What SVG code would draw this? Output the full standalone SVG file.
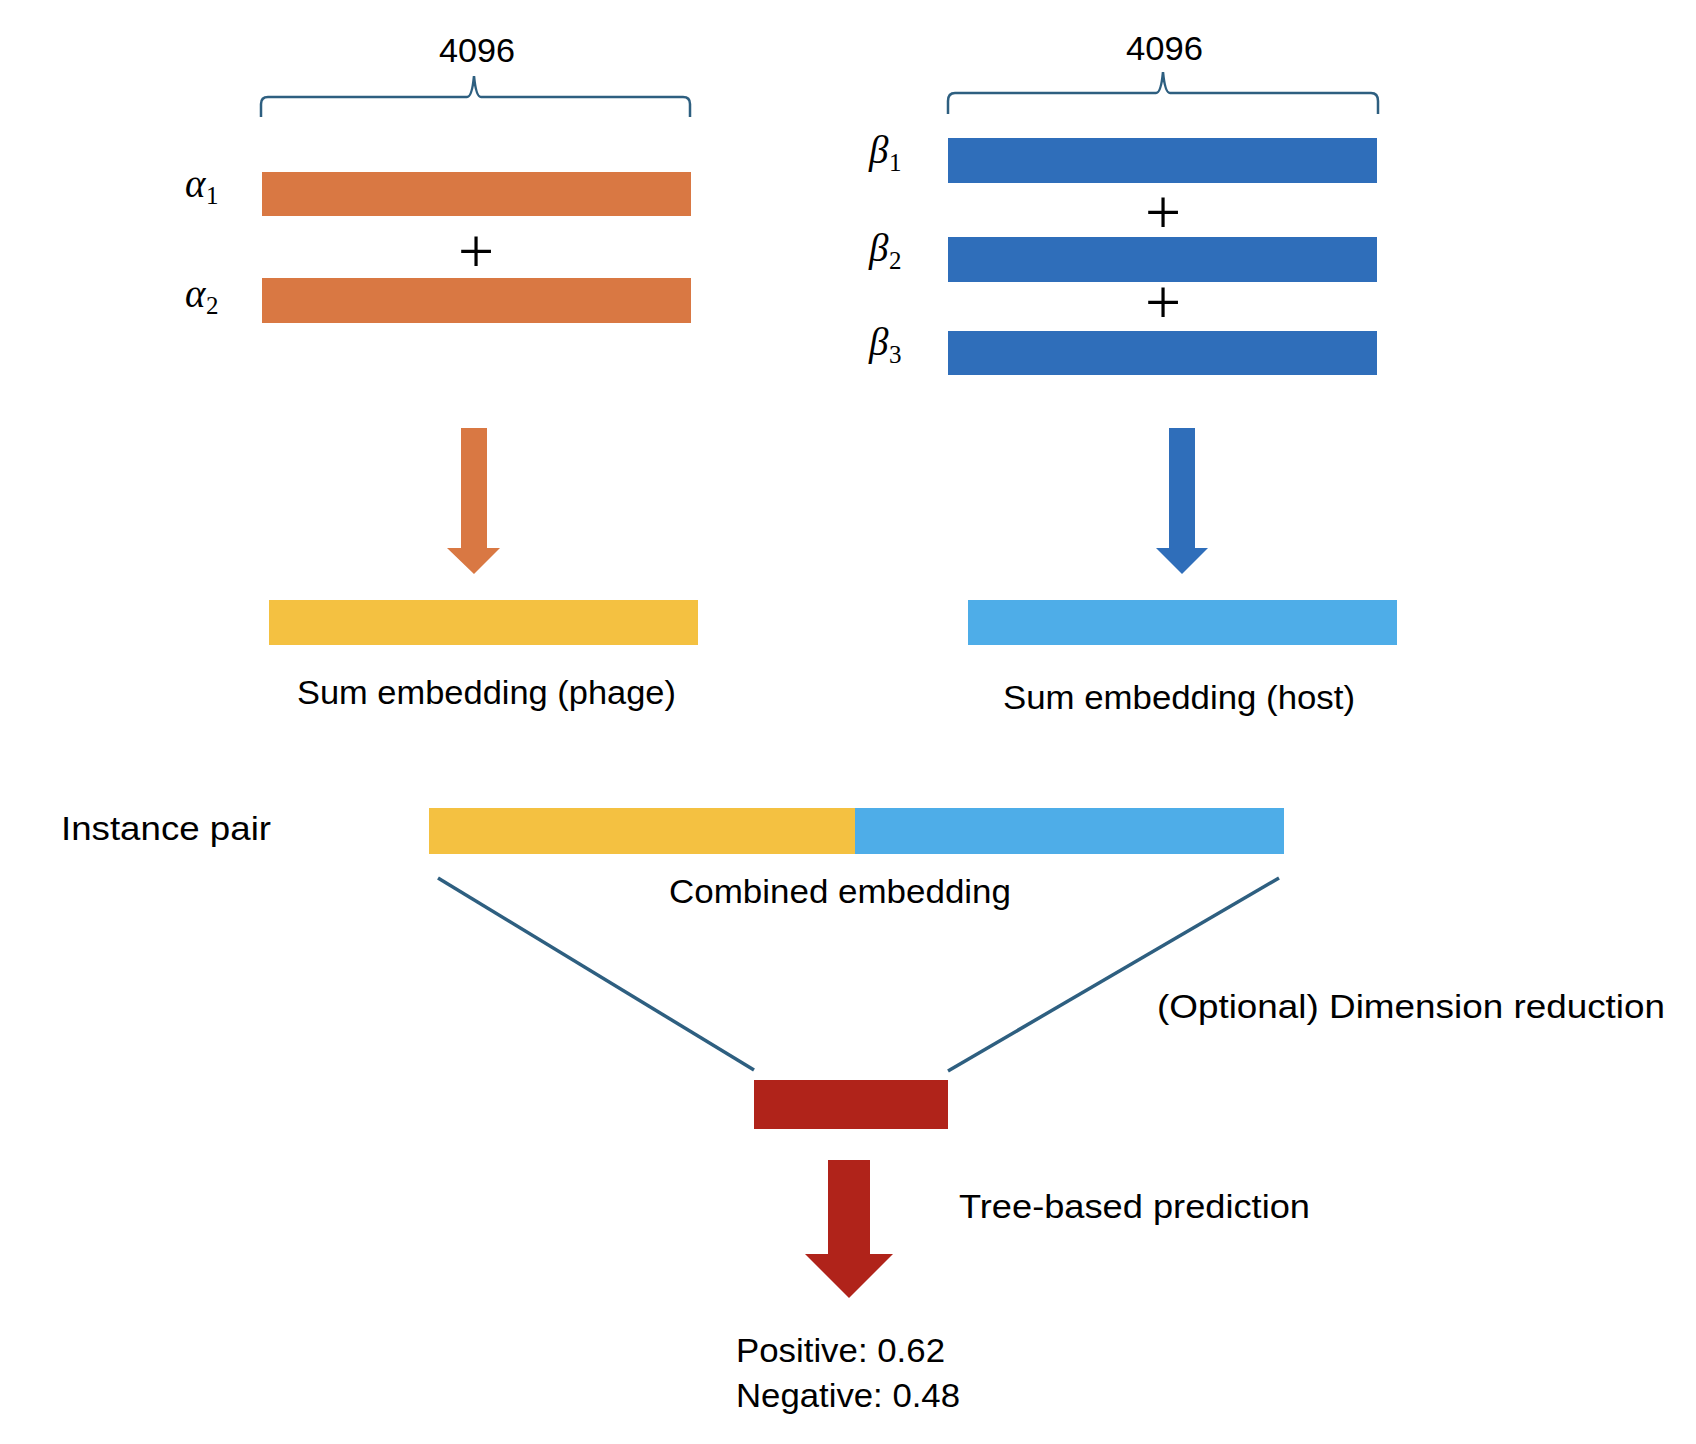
<svg xmlns="http://www.w3.org/2000/svg" width="1696" height="1444" viewBox="0 0 1696 1444">
<style>
.lbl{font-family:"Liberation Sans",Arial,sans-serif;font-size:33px;fill:#000}
.gr{font-family:"Liberation Serif","Times New Roman",serif;font-style:italic;font-size:39px;fill:#000}
.sub{font-family:"Liberation Serif","Times New Roman",serif;font-style:normal;font-size:25px}
.plus{font-family:"Liberation Serif","Times New Roman",serif;font-size:64px;fill:#000;text-anchor:middle}
.brace{fill:none;stroke:#2E5F80;stroke-width:2.5}
.fun{stroke:#2E5F80;stroke-width:3.5;fill:none}
.or{fill:#D97843}.bl{fill:#2F6EBA}.ye{fill:#F4C141}.lb{fill:#4EADE8}.rd{fill:#B0231A}
</style>
<rect width="1696" height="1444" fill="#fff"/>

<g id="phage-inputs">
  <path class="brace" d="M261,117 V104 Q261,97 268,97 H467 Q472,97 474,76 Q476,97 481,97 H683 Q690,97 690,104 V117"/>
  <text class="lbl" x="439" y="62" textLength="76" lengthAdjust="spacingAndGlyphs">4096</text>
  <g id="alpha1">
    <rect class="or" x="262" y="172" width="429" height="44"/>
    <text class="gr" x="185" y="197">α<tspan class="sub" x="206" y="204">1</tspan></text>
  </g>
  <text class="plus" x="476" y="273">+</text>
  <g id="alpha2">
    <rect class="or" x="262" y="278" width="429" height="45"/>
    <text class="gr" x="185" y="307">α<tspan class="sub" x="206" y="314">2</tspan></text>
  </g>
</g>

<g id="host-inputs">
  <path class="brace" d="M948,114 V101 Q948,93 955,93 H1156 Q1161,93 1163,72 Q1165,93 1170,93 H1371 Q1378,93 1378,101 V114"/>
  <text class="lbl" x="1126" y="60" textLength="77" lengthAdjust="spacingAndGlyphs">4096</text>
  <g id="beta1">
    <rect class="bl" x="948" y="138" width="429" height="45"/>
    <text class="gr" x="869" y="163">β<tspan class="sub" x="889" y="171">1</tspan></text>
  </g>
  <text class="plus" x="1163" y="234">+</text>
  <g id="beta2">
    <rect class="bl" x="948" y="237" width="429" height="45"/>
    <text class="gr" x="869" y="261">β<tspan class="sub" x="889" y="269">2</tspan></text>
  </g>
  <text class="plus" x="1163" y="324">+</text>
  <g id="beta3">
    <rect class="bl" x="948" y="331" width="429" height="44"/>
    <text class="gr" x="869" y="355">β<tspan class="sub" x="889" y="363">3</tspan></text>
  </g>
</g>

<g id="sum-phage">
  <rect class="ye" x="269" y="600" width="429" height="45"/>
  <text class="lbl" x="297" y="704" textLength="379" lengthAdjust="spacingAndGlyphs">Sum embedding (phage)</text>
</g>

<g id="sum-host">
  <rect class="lb" x="968" y="600" width="429" height="45"/>
  <text class="lbl" x="1003" y="709" textLength="352" lengthAdjust="spacingAndGlyphs">Sum embedding (host)</text>
</g>

<g id="instance-pair">
  <text class="lbl" x="61" y="840" textLength="210" lengthAdjust="spacingAndGlyphs">Instance pair</text>
  <rect class="ye" x="429" y="808" width="426" height="46"/>
  <rect class="lb" x="855" y="808" width="429" height="46"/>
  <text class="lbl" x="669" y="903" textLength="342" lengthAdjust="spacingAndGlyphs">Combined embedding</text>
</g>

<g id="reduced">
  <rect class="rd" x="754" y="1080" width="194" height="49"/>
  <text class="lbl" x="1157" y="1018" textLength="508" lengthAdjust="spacingAndGlyphs">(Optional) Dimension reduction</text>
</g>

<g id="prediction">
  <text class="lbl" x="959" y="1218" textLength="351" lengthAdjust="spacingAndGlyphs">Tree-based prediction</text>
  <text class="lbl" x="736" y="1362" textLength="209" lengthAdjust="spacingAndGlyphs">Positive: 0.62</text>
  <text class="lbl" x="736" y="1407" textLength="224" lengthAdjust="spacingAndGlyphs">Negative: 0.48</text>
</g>

<g id="connectors">
  <polygon class="or" points="461,428 487,428 487,548 500,548 474,574 447,548 461,548"/>
  <polygon class="bl" points="1169,428 1195,428 1195,548 1208,548 1182,574 1156,548 1169,548"/>
  <line class="fun" x1="438" y1="878" x2="754" y2="1070"/>
  <line class="fun" x1="1279" y1="878" x2="948" y2="1071"/>
  <polygon class="rd" points="828,1160 870,1160 870,1254 893,1254 849,1298 805,1254 828,1254"/>
</g>
</svg>
